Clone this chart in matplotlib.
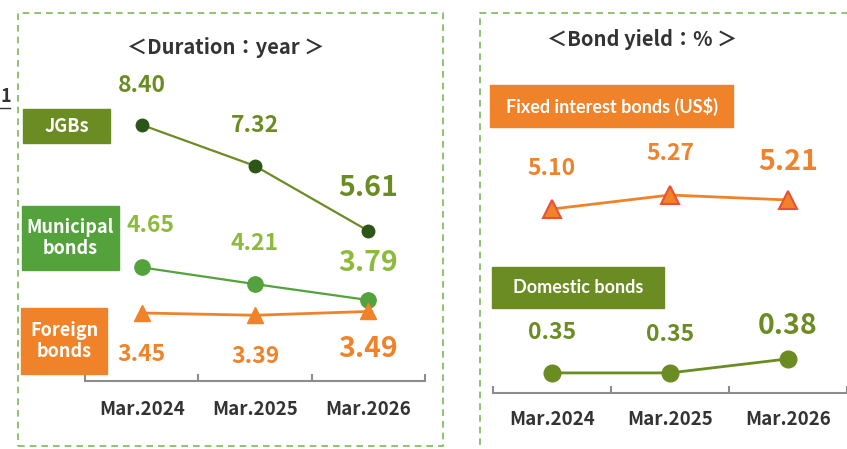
import matplotlib
matplotlib.use("Agg")
import matplotlib.pyplot as plt
from matplotlib.patches import Rectangle
from matplotlib.lines import Line2D

plt.rcParams['font.family'] = ['Noto Sans CJK JP', 'DejaVu Sans']

years = ["Mar.2024", "Mar.2025", "Mar.2026"]
jgbs = [8.40, 7.32, 5.61]
municipal = [4.65, 4.21, 3.79]
foreign = [3.45, 3.39, 3.49]
fixed_usd = [5.10, 5.27, 5.21]
domestic = [0.35, 0.35, 0.38]

OLIVE = '#6b8c23'
DKGREEN = '#2c5518'
MGREEN = '#53a23b'
LTGREEN = '#8cbb3c'
ORANGE = '#f08229'
RED = '#e8503a'
TXT = '#333333'
BORDER = '#7cb95a'

W, H = 847, 449
fig = plt.figure(figsize=(W / 100, H / 100), dpi=100)


def rect(x0, y0, x1, y1):
    # pixel box measured from the top-left corner -> figure fraction
    return [x0 / W, 1 - y1 / H, (x1 - x0) / W, (y1 - y0) / H]


def label_box(x0, y0, x1, y1, color, text, size, family=None):
    fig.patches.append(Rectangle((x0 / W, 1 - y1 / H), (x1 - x0) / W, (y1 - y0) / H,
                                 transform=fig.transFigure, color=color, zorder=1))
    kw = {} if family is None else {'family': family}
    fig.text((x0 + x1) / 2 / W, 1 - (y0 + y1) / 2 / H, text, color='white',
             fontsize=size, fontweight='bold', ha='center', va='center',
             linespacing=1.15, **kw)


def frame(x0, y0, x1, y1):
    fig.patches.append(Rectangle((x0 / W, 1 - y1 / H), (x1 - x0) / W, (y1 - y0) / H,
                                 transform=fig.transFigure, fill=False,
                                 edgecolor=BORDER, lw=1.2, ls=(0, (4, 3)), zorder=0))


def style_axis(ax, pad):
    for s in ['left', 'right', 'top']:
        ax.spines[s].set_visible(False)
    ax.spines['bottom'].set_color('#8c8c8c')
    ax.spines['bottom'].set_linewidth(1.5)
    ax.set_yticks([])
    ax.set_xlim(-0.5, 2.5)
    ax.set_xticks(range(len(years)))
    ax.set_xticklabels(years, fontsize=13.5, fontweight='bold', color=TXT)
    ax.tick_params(axis='x', which='major', length=0, pad=pad)
    ax.set_xticks([-0.5, 0.5, 1.5, 2.5], minor=True)
    ax.tick_params(axis='x', which='minor', direction='in', length=5,
                   width=1.5, color='#8c8c8c')
    ax.patch.set_visible(False)


def annotate(ax, vals, color, offs, sizes, dx=None):
    for i, v in enumerate(vals):
        ox = 0 if dx is None else dx[i]
        ax.annotate(f"{v:.2f}", (i, v), xytext=(ox, offs[i]), textcoords='offset points',
                    ha='center', va='center', fontsize=sizes[i], fontweight='bold',
                    color=color, annotation_clip=False)


frame(18, 13, 443, 446)
frame(480, 13, 860, 460)

# ---- left: duration ----
ax1 = fig.add_axes(rect(85, 60, 425, 381))
x = range(len(years))
ax1.plot(x, jgbs, color=OLIVE, lw=1.6, marker='o', ms=9, mfc=DKGREEN, mec=DKGREEN, zorder=3)
ax1.plot(x, municipal, color=MGREEN, lw=1.6, marker='o', ms=11, mfc=MGREEN, mec=MGREEN, zorder=3)
ax1.plot(x, foreign, color=ORANGE, lw=2, marker='^', ms=12, mfc=ORANGE, mec=ORANGE, zorder=3)
ax1.set_ylim(1.66, 10.107)
style_axis(ax1, 14)
annotate(ax1, jgbs, OLIVE, [28, 29, 31], [16.5, 16.5, 20.5])
annotate(ax1, municipal, LTGREEN, [30, 29, 27], [16.5, 16.5, 20.5], dx=[6, 0, 0])
annotate(ax1, foreign, ORANGE, [-30, -30, -27], [16.5, 16.5, 20.5])

fig.text(226 / W, 1 - 48 / H, "＜Duration：year ＞", ha='center', va='center',
         fontsize=14.5, fontweight='bold', color=TXT)

label_box(23, 109, 110, 143, OLIVE, "JGBs", 13)
label_box(22, 206, 119, 270, MGREEN, "Municipal\nbonds", 13)
label_box(21, 308, 107, 374, ORANGE, "Foreign\nbonds", 13)

# fragment at the far left edge
fig.text(1 / W, 1 - 96 / H, "1", ha='left', va='center', fontsize=13,
         fontweight='bold', color=TXT)
fig.lines.append(Line2D([0, 10 / W], [1 - 108 / H, 1 - 108 / H],
                        transform=fig.transFigure, color=TXT, lw=1))

# ---- right: bond yield ----
ax2 = fig.add_axes(rect(493, 140, 847, 240))
ax2.plot(x, fixed_usd, color=ORANGE, lw=2, marker='^', ms=13, mfc=ORANGE, mec=RED,
         mew=1.5, zorder=3)
ax2.set_ylim(4.724, 5.938)
ax2.set_xlim(-0.5, 2.5)
ax2.axis('off')
annotate(ax2, fixed_usd, ORANGE, [29, 30, 27], [16.5, 16.5, 20.5])

ax3 = fig.add_axes(rect(493, 300, 847, 393))
ax3.plot(x, domestic, color=OLIVE, lw=2, marker='o', ms=12, mfc=OLIVE, mec=OLIVE, zorder=3)
ax3.set_ylim(0.307, 0.506)
style_axis(ax3, 12)
annotate(ax3, domestic, OLIVE, [29, 28, 24], [16.5, 16.5, 20.5])

fig.text(642 / W, 1 - 40 / H, "＜Bond yield：% ＞", ha='center', va='center',
         fontsize=14.5, fontweight='bold', color=TXT)

label_box(490, 85, 733, 127, ORANGE, "Fixed interest bonds (US$)", 13, family='Lato')
label_box(492, 267, 664, 308, OLIVE, "Domestic bonds", 13, family='Lato')

fig.savefig("out.png", dpi=100)
